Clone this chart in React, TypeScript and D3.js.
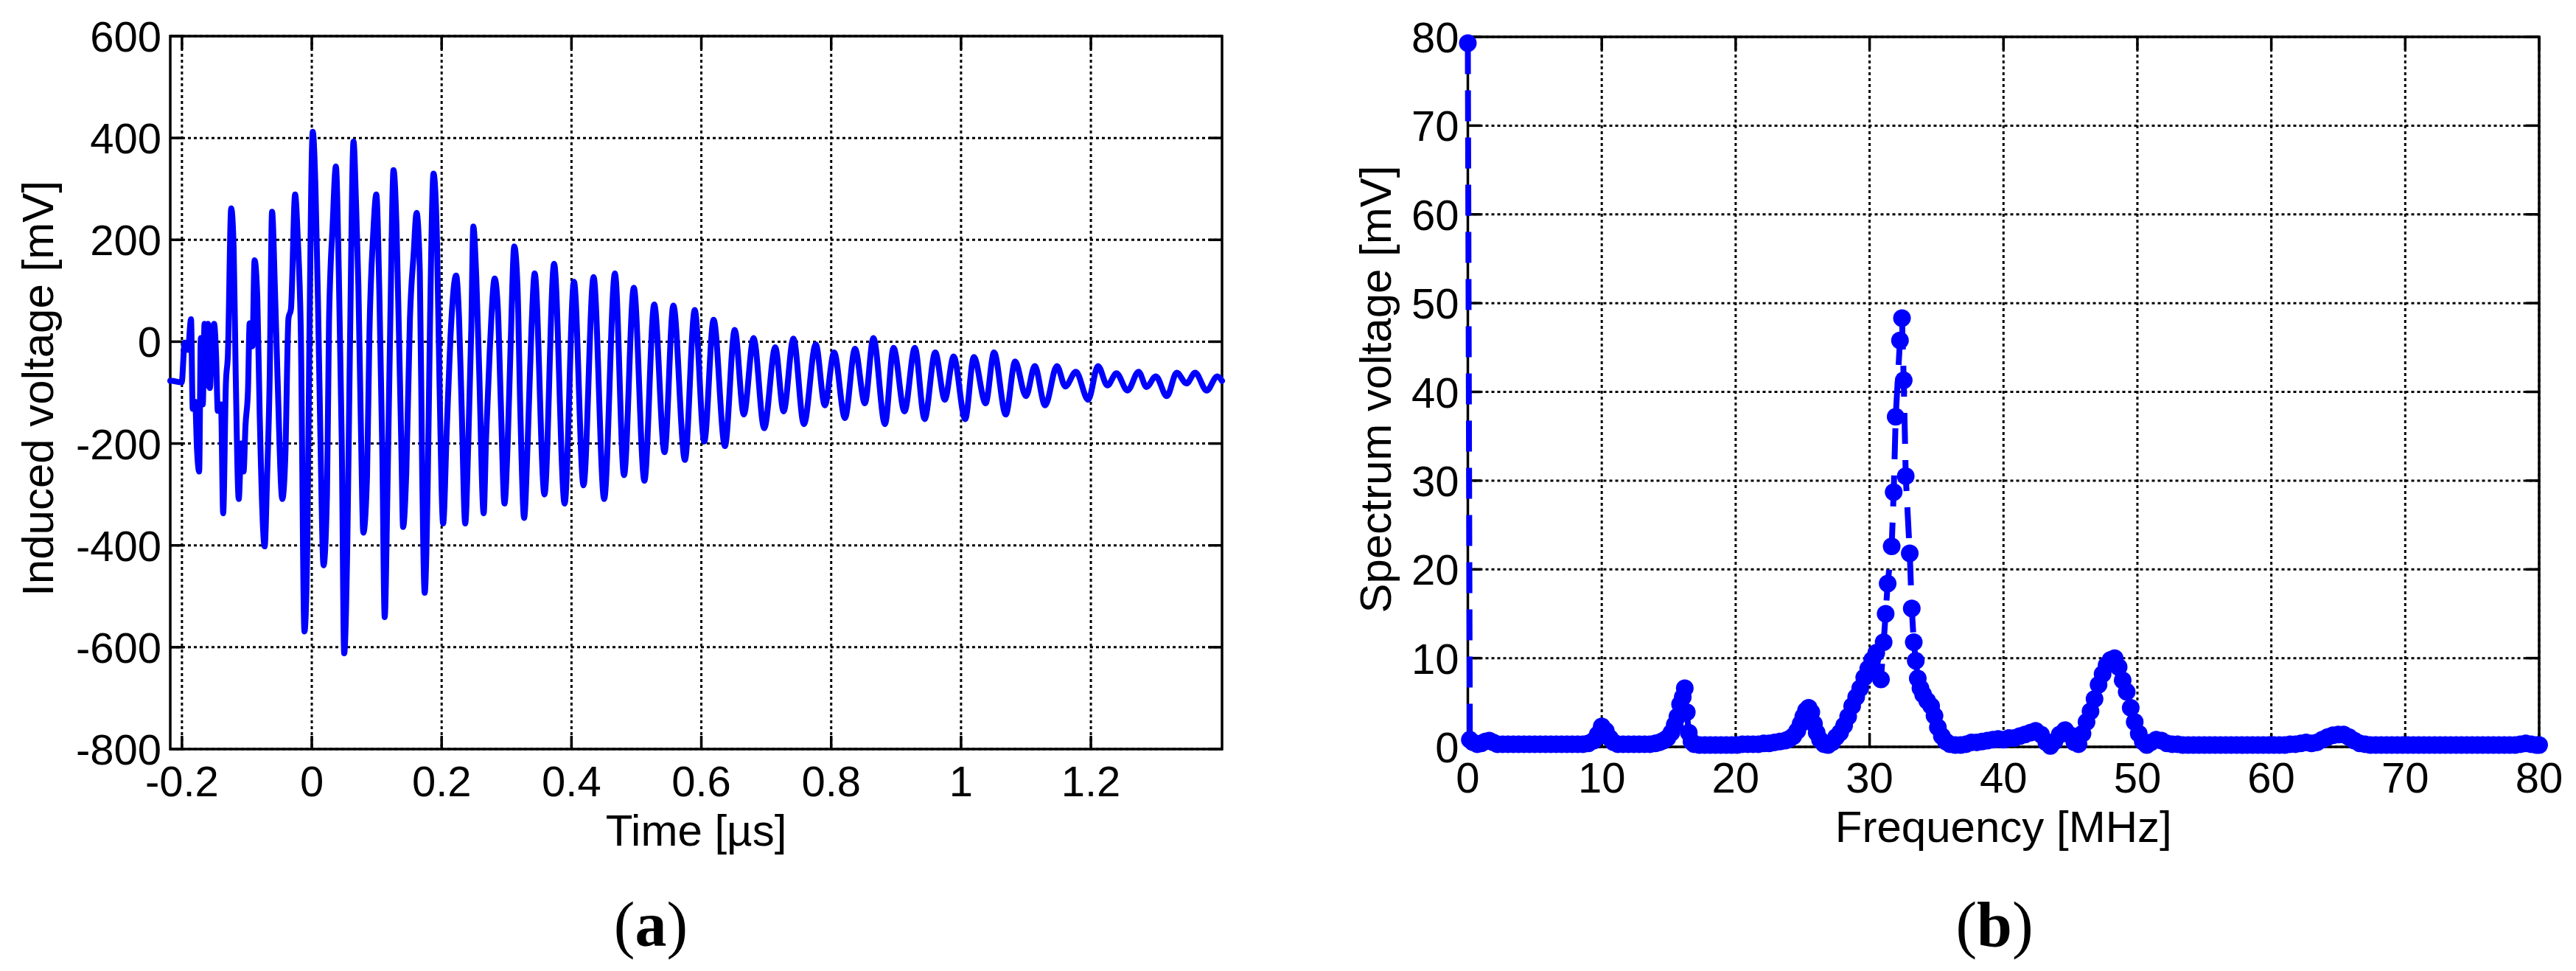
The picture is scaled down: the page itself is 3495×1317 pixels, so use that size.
import React from 'react';
import * as d3 from 'd3';

const W = 3495;
const H = 1317;
const FONT = '"Liberation Sans", Arial, Helvetica, sans-serif';
const SERIF = '"Liberation Serif", "Times New Roman", serif';
const BLUE = '#0000ff';

// ---------- tick labels ----------
const timeTicks = [-0.2, 0, 0.2, 0.4, 0.6, 0.8, 1, 1.2];
const voltTicks = [-800, -600, -400, -200, 0, 200, 400, 600];
const freqTicks = [0, 10, 20, 30, 40, 50, 60, 70, 80];
const specTicks = [0, 10, 20, 30, 40, 50, 60, 70, 80];

// ---------- (a) induced voltage waveform: [time µs, voltage mV] ----------
const waveform: [number, number][] = [
  [-0.218, -77], [-0.2163, -77], [-0.2004, -80], [-0.1958, -2], [-0.1909, -16], [-0.186, 44],
  [-0.1834, -132], [-0.1796, -118], [-0.1769, -209], [-0.1735, -255], [-0.1709, 7], [-0.1679, -123],
  [-0.1652, 35], [-0.1626, -86], [-0.1599, 35], [-0.1569, -91], [-0.1539, -9], [-0.1505, 35],
  [-0.1474, -27], [-0.1448, -136], [-0.1399, -123], [-0.1365, -337], [-0.1323, -82], [-0.1293, -27],
  [-0.1241, 262], [-0.1203, 182], [-0.1172, -64], [-0.1125, -309], [-0.1085, -200], [-0.1051, -255],
  [-0.1021, -164], [-0.0983, -96], [-0.0957, 36], [-0.0915, -9], [-0.0881, 160], [-0.0839, 86],
  [-0.0802, -146], [-0.0726, -402], [-0.0688, -264], [-0.065, -82], [-0.0612, 255], [-0.0567, 100],
  [-0.0529, -64], [-0.0454, -309], [-0.0408, -227], [-0.0359, 46], [-0.0321, 64], [-0.0257, 289],
  [-0.0215, 200], [-0.017, 27], [-0.0113, -569], [-0.0068, -391], [-0.0038, -9], [0.0015, 412],
  [0.0057, 300], [0.0095, 82], [0.0132, -182], [0.0181, -439], [0.0234, -300], [0.0265, 36],
  [0.0321, 228], [0.0371, 344], [0.0416, 137], [0.0461, -191], [0.0499, -612], [0.0548, -391],
  [0.0586, -27], [0.0643, 393], [0.0681, 273], [0.0718, 109], [0.0756, -164], [0.0794, -375],
  [0.0851, -264], [0.0888, 18], [0.0945, 209], [0.0994, 289], [0.104, 100], [0.1085, -209],
  [0.1123, -541], [0.1164, -300], [0.121, 46], [0.1259, 337], [0.1304, 228], [0.1342, 18],
  [0.138, -209], [0.1406, -364], [0.1456, -255], [0.1512, 46], [0.1569, 173], [0.1614, 253],
  [0.1664, 137], [0.1701, -264], [0.1739, -493], [0.1785, -282], [0.1822, 46], [0.1875, 330],
  [0.1928, 200], [0.1966, -73], [0.2023, -357], [0.2079, -173], [0.2136, 9], [0.2223, 130],
  [0.2268, 46], [0.2306, -118], [0.2363, -357], [0.2412, -191], [0.2457, 27], [0.2488, 226],
  [0.2533, 128], [0.2578, -55], [0.2647, -337], [0.2684, -191], [0.2741, -18], [0.2817, 124],
  [0.2866, 64], [0.2911, -118], [0.2968, -318], [0.3017, -200], [0.3062, -9], [0.3119, 187],
  [0.3168, 109], [0.3214, -146], [0.327, -346], [0.3327, -191], [0.3384, 27],
  [0.3433, 134], [0.3584, -300], [0.3732, 153], [0.3894, -318], [0.4038, 118], [0.4185, -282],
  [0.434, 127], [0.4503, -309], [0.4669, 134], [0.4809, -262], [0.496, 106], [0.5123, -273],
  [0.5274, 73], [0.5433, -217], [0.5569, 71], [0.5747, -232], [0.5898, 62], [0.6045, -196],
  [0.6189, 43], [0.6363, -205], [0.6514, 23], [0.6654, -143], [0.6805, 7], [0.6968, -170],
  [0.7138, -11], [0.7267, -137], [0.7418, 6], [0.758, -162], [0.7762, -5], [0.7902, -125],
  [0.8045, -21], [0.8212, -150], [0.8367, -14], [0.8518, -121], [0.865, 7], [0.8828, -162],
  [0.896, -12], [0.9129, -137], [0.9288, -12], [0.9439, -152], [0.9602, -21], [0.975, -114],
  [0.9886, -29], [1.0064, -152], [1.0197, -30], [1.0379, -121], [1.0508, -21], [1.0689, -143],
  [1.0833, -39], [1.1, -107], [1.1136, -48], [1.1295, -125], [1.1477, -48], [1.1606, -88],
  [1.1769, -59], [1.1958, -114], [1.211, -48], [1.2254, -86], [1.2394, -62], [1.2564, -96],
  [1.2735, -59], [1.2856, -89], [1.3, -68], [1.317, -107], [1.3322, -61], [1.3473, -82],
  [1.3606, -61], [1.3784, -96], [1.3947, -68], [1.402, -77],
];

// ---------- (b) spectrum: [frequency MHz, spectrum voltage mV] ----------
const spectrum: [number, number][] = [
  [0, 79.3], [0.15, 0.8], [0.4, 0.5], [0.7, 0.3], [1.0, 0.4], [1.3, 0.6], [1.6, 0.7], [1.9, 0.5],
  [2.2, 0.3], [2.6, 0.3], [3.0, 0.3], [3.4, 0.3], [3.8, 0.3], [4.2, 0.3], [4.6, 0.3], [5.0, 0.3],
  [5.4, 0.3], [5.8, 0.3], [6.2, 0.3], [6.6, 0.3], [7.0, 0.3], [7.4, 0.3], [7.8, 0.3], [8.2, 0.3],
  [8.6, 0.3], [9.0, 0.4], [9.4, 0.7], [9.7, 1.4], [10.0, 2.3], [10.3, 1.8], [10.6, 1.0], [10.9, 0.5],
  [11.2, 0.3], [11.6, 0.3], [12.0, 0.3], [12.4, 0.3], [12.8, 0.3], [13.2, 0.3], [13.6, 0.3], [14.0, 0.4],
  [14.3, 0.5], [14.6, 0.7], [14.9, 1.0], [15.2, 1.6], [15.45, 2.5], [15.65, 3.4], [15.85, 4.8], [16.05, 5.6],
  [16.2, 6.6], [16.35, 3.9], [16.5, 1.6], [16.7, 0.6], [16.9, 0.3], [17.3, 0.2], [17.7, 0.2], [18.1, 0.2],
  [18.5, 0.2], [18.9, 0.2], [19.3, 0.2], [19.7, 0.2], [20.1, 0.2], [20.5, 0.3], [20.9, 0.3], [21.3, 0.3],
  [21.7, 0.3], [22.1, 0.4], [22.5, 0.4], [22.9, 0.5], [23.3, 0.6], [23.7, 0.7], [24.0, 0.9], [24.3, 1.2],
  [24.6, 1.8], [24.85, 2.6], [25.05, 3.4], [25.25, 4.1], [25.45, 4.4], [25.65, 3.9], [25.85, 2.6], [26.05, 1.6],
  [26.3, 0.8], [26.6, 0.3], [26.9, 0.2], [27.2, 0.5], [27.5, 1.1], [27.8, 1.6], [28.1, 2.4], [28.4, 3.4],
  [28.7, 4.6], [29.0, 5.6], [29.3, 6.6], [29.6, 7.8], [29.9, 8.8], [30.2, 9.8], [30.5, 10.6], [30.85, 7.6],
  [31.05, 11.8], [31.2, 15.0], [31.35, 18.4], [31.65, 22.6], [31.8, 28.7], [31.95, 37.2], [32.27, 45.8], [32.42, 48.3],
  [32.55, 41.3], [32.7, 30.5], [33.0, 21.8], [33.15, 15.6], [33.3, 11.8], [33.45, 9.7], [33.6, 7.7], [33.8, 6.6],
  [34.0, 5.9], [34.3, 5.2], [34.6, 4.6], [34.85, 3.5], [35.1, 2.2], [35.4, 1.2], [35.7, 0.6], [36.0, 0.3],
  [36.4, 0.2], [36.8, 0.2], [37.2, 0.3], [37.6, 0.5], [38.0, 0.5], [38.4, 0.6], [38.8, 0.7], [39.2, 0.8],
  [39.6, 0.9], [40.0, 0.8], [40.4, 1.0], [40.8, 1.0], [41.2, 1.2], [41.6, 1.4], [42.0, 1.6], [42.4, 1.8],
  [42.8, 1.4], [43.2, 0.5], [43.5, 0.1], [43.8, 0.6], [44.2, 1.4], [44.6, 1.9], [45.0, 1.3], [45.3, 0.5],
  [45.6, 0.3], [45.9, 1.5], [46.2, 2.8], [46.5, 4.0], [46.8, 5.4], [47.1, 7.0], [47.4, 8.2], [47.7, 9.2],
  [48.0, 9.8], [48.3, 10.0], [48.6, 9.0], [48.9, 7.5], [49.2, 6.2], [49.5, 4.4], [49.8, 2.8], [50.1, 1.5],
  [50.4, 0.6], [50.7, 0.2], [51.0, 0.5], [51.4, 0.8], [51.8, 0.7], [52.2, 0.4], [52.6, 0.3], [53.0, 0.3],
  [53.4, 0.2], [53.8, 0.2], [54.2, 0.2], [54.6, 0.2], [55.0, 0.2], [55.4, 0.2], [55.8, 0.2], [56.2, 0.2],
  [56.6, 0.2], [57.0, 0.2], [57.4, 0.2], [57.8, 0.2], [58.2, 0.2], [58.6, 0.2], [59.0, 0.2], [59.4, 0.2],
  [59.8, 0.2], [60.2, 0.2], [60.6, 0.2], [61.0, 0.2], [61.4, 0.3], [61.8, 0.3], [62.2, 0.4], [62.6, 0.5],
  [63.0, 0.4], [63.4, 0.5], [63.8, 0.8], [64.2, 1.1], [64.6, 1.3], [65.0, 1.4], [65.4, 1.4], [65.8, 1.1],
  [66.2, 0.7], [66.6, 0.4], [67.0, 0.3], [67.4, 0.2], [67.8, 0.2], [68.2, 0.2], [68.6, 0.2], [69.0, 0.2],
  [69.4, 0.2], [69.8, 0.2], [70.2, 0.2], [70.6, 0.2], [71.0, 0.2], [71.4, 0.2], [71.8, 0.2], [72.2, 0.2],
  [72.6, 0.2], [73.0, 0.2], [73.4, 0.2], [73.8, 0.2], [74.2, 0.2], [74.6, 0.2], [75.0, 0.2], [75.4, 0.2],
  [75.8, 0.2], [76.2, 0.2], [76.6, 0.2], [77.0, 0.2], [77.4, 0.2], [77.8, 0.2], [78.2, 0.2], [78.6, 0.3],
  [79.0, 0.4], [79.4, 0.3], [79.8, 0.2], [80.0, 0.2],
];

type AxesProps = {
  x0: number; x1: number; y0: number; y1: number;
  xScale: d3.ScaleLinear<number, number>;
  yScale: d3.ScaleLinear<number, number>;
  xTicks: number[]; yTicks: number[];
  xLabel: string; yLabel: string;
  xTickBaseline: number; xLabelBaseline: number; yLabelX: number; yLabelY: number;
  children?: React.ReactNode;
};

const TICK = 18;
const FS_TICK = 58;
const FS_LABEL = 60;

function Axes(p: AxesProps) {
  const grid = { stroke: '#000', strokeWidth: 3, strokeDasharray: '4 4' };
  const axisStroke = { stroke: '#000', strokeWidth: 3.5 };
  return (
    <g>
      {p.xTicks.map((t) => (
        <line key={'gx' + t} x1={p.xScale(t)} x2={p.xScale(t)} y1={p.y0} y2={p.y1} {...grid} />
      ))}
      {p.yTicks.map((t) => (
        <line key={'gy' + t} x1={p.x0} x2={p.x1} y1={p.yScale(t)} y2={p.yScale(t)} {...grid} />
      ))}
      <rect x={p.x0} y={p.y0} width={p.x1 - p.x0} height={p.y1 - p.y0} fill="none" {...axisStroke} />
      {p.xTicks.map((t) => (
        <g key={'tx' + t}>
          <line x1={p.xScale(t)} x2={p.xScale(t)} y1={p.y1} y2={p.y1 - TICK} {...axisStroke} />
          <line x1={p.xScale(t)} x2={p.xScale(t)} y1={p.y0} y2={p.y0 + TICK} {...axisStroke} />
        </g>
      ))}
      {p.yTicks.map((t) => (
        <g key={'ty' + t}>
          <line x1={p.x0} x2={p.x0 + TICK} y1={p.yScale(t)} y2={p.yScale(t)} {...axisStroke} />
          <line x1={p.x1} x2={p.x1 - TICK} y1={p.yScale(t)} y2={p.yScale(t)} {...axisStroke} />
        </g>
      ))}
      {p.xTicks.map((t) => (
        <text key={'lx' + t} x={p.xScale(t)} y={p.xTickBaseline} textAnchor="middle"
          fontFamily={FONT} fontSize={FS_TICK} fill="#000">{String(t)}</text>
      ))}
      {p.yTicks.map((t) => (
        <text key={'ly' + t} x={p.x0 - 12} y={p.yScale(t) + 21} textAnchor="end"
          fontFamily={FONT} fontSize={FS_TICK} fill="#000">{String(t)}</text>
      ))}
      <text x={(p.x0 + p.x1) / 2} y={p.xLabelBaseline} textAnchor="middle"
        fontFamily={FONT} fontSize={FS_LABEL} fill="#000">{p.xLabel}</text>
      <text transform={`translate(${p.yLabelX},${p.yLabelY}) rotate(-90)`} textAnchor="middle"
        fontFamily={FONT} fontSize={FS_LABEL} fill="#000">{p.yLabel}</text>
      {p.children}
    </g>
  );
}

export default function App() {
  // panel (a)
  const A = { x0: 231, x1: 1658, y0: 49, y1: 1016 };
  const xa = d3.scaleLinear().domain([-0.218, 1.402]).range([A.x0, A.x1]);
  const ya = d3.scaleLinear().domain([-800, 600]).range([A.y1, A.y0]);
  const lineA = d3.line<[number, number]>()
    .x((d) => xa(d[0]))
    .y((d) => ya(d[1]))
    .curve(d3.curveMonotoneX);

  // panel (b)
  const B = { x0: 1991.5, x1: 3445, y0: 50, y1: 1013 };
  const xb = d3.scaleLinear().domain([0, 80]).range([B.x0, B.x1]);
  const yb = d3.scaleLinear().domain([0, 80]).range([B.y1, B.y0]);
  const lineB = d3.line<[number, number]>()
    .x((d) => xb(d[0]))
    .y((d) => yb(d[1]));

  return (
    <svg width={W} height={H} viewBox={`0 0 ${W} ${H}`}
      style={{ position: 'absolute', left: 0, top: 0, background: '#fff' }}>
      <rect x={0} y={0} width={W} height={H} fill="#fff" />
      <Axes {...A} xScale={xa} yScale={ya} xTicks={timeTicks} yTicks={voltTicks}
        xLabel="Time [µs]" yLabel="Induced voltage [mV]"
        xTickBaseline={1080} xLabelBaseline={1147} yLabelX={72} yLabelY={527}>
        <path d={lineA(waveform) || ''} fill="none" stroke={BLUE} strokeWidth={8}
          strokeLinejoin="round" strokeLinecap="round" />
      </Axes>
      <Axes {...B} xScale={xb} yScale={yb} xTicks={freqTicks} yTicks={specTicks}
        xLabel="Frequency [MHz]" yLabel="Spectrum voltage [mV]"
        xTickBaseline={1075} xLabelBaseline={1142} yLabelX={1887} yLabelY={528}>
        <path d={lineB(spectrum) || ''} fill="none" stroke={BLUE} strokeWidth={8}
          strokeDasharray="42 22" />
        {spectrum.map((d, i) => (
          <circle key={i} cx={xb(d[0])} cy={yb(d[1])} r={12} fill={BLUE} />
        ))}
      </Axes>
      <text x={883} y={1283} textAnchor="middle" fontFamily={SERIF} fontSize={86} fill="#000">
        (<tspan fontWeight="bold">a</tspan>)
      </text>
      <text x={2706} y={1283} textAnchor="middle" fontFamily={SERIF} fontSize={86} fill="#000">
        (<tspan fontWeight="bold">b</tspan>)
      </text>
    </svg>
  );
}
